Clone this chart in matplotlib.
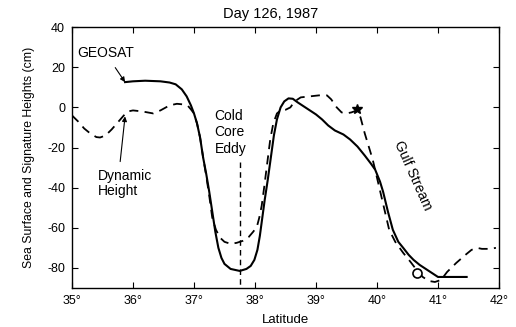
import matplotlib
matplotlib.use("Agg")
import matplotlib.pyplot as plt

plt.rcParams['font.family'] = ['Liberation Sans', 'DejaVu Sans']
plt.rcParams['axes.unicode_minus'] = False

# GEOSAT sea surface height (solid)
geosat_lat = [35.87, 36.0, 36.2, 36.45, 36.6, 36.7, 36.8, 36.88, 36.95, 37.0, 37.05,
              37.1, 37.15, 37.2, 37.25, 37.3, 37.35, 37.4, 37.45, 37.5, 37.6, 37.75,
              37.86, 37.93, 37.99, 38.04, 38.08, 38.12, 38.16, 38.21, 38.26, 38.31, 38.36,
              38.42, 38.48, 38.55, 38.62, 38.7, 38.8, 38.9, 39.0, 39.1, 39.2, 39.31,
              39.45, 39.56, 39.68, 39.8, 39.9, 39.97, 40.05, 40.1, 40.18, 40.26,
              40.35, 40.43, 40.52, 40.6, 40.7, 40.8, 40.9, 41.0, 41.47]
geosat_h = [12.6, 13.0, 13.3, 13.0, 12.4, 11.5, 9.0, 5.5, 1.0, -3.0, -8.0,
            -15.0, -25.0, -33.0, -42.0, -52.0, -62.0, -70.0, -75.0, -78.0, -80.5, -81.5,
            -80.5, -79.0, -76.0, -71.0, -64.0, -55.0, -46.0, -36.0, -25.0, -14.0, -6.0,
            0.0, 3.0, 4.5, 4.3, 2.5, 0.5, -1.5, -3.5, -6.0, -9.0, -11.5,
            -13.5, -16.0, -19.5, -24.0, -28.0, -31.0, -37.0, -42.0, -52.0, -61.0,
            -67.0, -70.0, -73.5, -76.0, -78.5, -80.5, -82.5, -84.5, -84.5]

# Dynamic height (dashed)
dyn_lat = [35.0, 35.1, 35.2, 35.3, 35.4, 35.46, 35.55, 35.65, 35.75, 35.85, 35.92,
           36.0, 36.15, 36.33, 36.45, 36.6, 36.72, 36.82, 36.9, 36.95, 37.0, 37.05,
           37.1, 37.15, 37.2, 37.25, 37.3, 37.36, 37.43, 37.5, 37.6, 37.7, 37.8,
           37.9, 37.97, 38.03, 38.07, 38.11, 38.15, 38.2, 38.25, 38.3, 38.36, 38.42,
           38.5, 38.58, 38.65, 38.75, 38.9, 39.05, 39.18, 39.25, 39.34, 39.42, 39.5,
           39.58, 39.67, 39.73, 39.8, 39.87, 39.93, 40.0, 40.1, 40.2, 40.3, 40.43,
           40.55, 40.65, 40.75, 40.85, 40.95, 41.05, 41.15, 41.3, 41.45, 41.55,
           41.64, 41.72, 41.85, 41.95]
dyn_h = [-4.0, -7.0, -10.5, -13.0, -14.8, -15.0, -14.0, -11.0, -7.5, -4.0, -2.0,
         -1.5, -2.0, -3.0, -1.5, 1.0, 1.8, 1.5, 0.8, -1.0, -3.0, -8.0,
         -15.0, -25.0, -34.0, -44.0, -55.0, -61.0, -65.0, -67.0, -68.0, -67.5, -66.5,
         -64.5, -62.0, -59.6, -55.0, -49.0, -40.0, -28.0, -16.0, -8.0, -3.0, -1.5,
         -1.2, 0.0, 3.0, 5.0, 5.5, 6.0, 6.0, 4.0, 0.0, -2.5, -3.0,
         -2.5, -1.5, -5.0, -13.0, -20.0, -26.0, -35.0, -48.0, -61.0, -67.0, -72.5,
         -77.0, -81.0, -84.5, -86.5, -87.0, -86.0, -82.0, -77.5, -73.5, -71.0,
         -70.0, -70.5, -70.5, -70.0]

star_pt = (39.67, -1.0)
circle_pt = (40.66, -82.5)

xticks = [35, 36, 37, 38, 39, 40, 41, 42]
xlabels = [f"{v}\u00b0" for v in xticks]
yticks = [-80, -60, -40, -20, 0, 20, 40]

fig = plt.figure(figsize=(5.16, 3.27), dpi=100)
ax = fig.add_axes([0.1395, 0.1193, 0.8275, 0.7977])

ax.plot(geosat_lat, geosat_h, color='black', lw=1.5)
ax.plot(dyn_lat, dyn_h, color='black', lw=1.3, dashes=(5, 3.5))
ax.plot([37.75, 37.75], [-27, -90], color='black', lw=1.0, dashes=(4, 3))
ax.plot(*star_pt, marker='*', color='black', ms=7)
ax.plot(*circle_pt, marker='o', mfc='white', mec='black', ms=6.5, mew=1.2)

fs = 10
ax.annotate("GEOSAT", xy=(35.87, 12.6), xytext=(35.55, 27), fontsize=fs,
            ha='center', va='center',
            arrowprops=dict(arrowstyle='-|>', color='black', lw=0.8,
                            shrinkA=4, shrinkB=0, mutation_scale=7))
ax.annotate("", xy=(35.87, -4.5), xytext=(35.79, -27),
            arrowprops=dict(arrowstyle='-|>', color='black', lw=0.8,
                            shrinkA=0, shrinkB=0, mutation_scale=7))
ax.text(35.43, -38, "Dynamic\nHeight", fontsize=fs, ha='left', va='center',
        linespacing=1.15)
ax.text(37.34, -12.5, "Cold\nCore\nEddy", fontsize=fs, ha='left', va='center',
        linespacing=1.2)
ax.text(40.58, -34, "Gulf Stream", fontsize=fs, ha='center', va='center',
        rotation=-66)

ax.set_xlim(35, 42)
ax.set_ylim(-90, 40)
ax.set_xticks(xticks)
ax.set_xticklabels(xlabels)
ax.set_yticks(yticks)
ax.tick_params(direction='in', top=True, right=True, labelsize=9, length=4,
               width=0.8, pad=5)
for s in ax.spines.values():
    s.set_linewidth(1.0)

ax.set_xlabel("Latitude", fontsize=9.5, labelpad=5)
ax.set_ylabel("Sea Surface and Signature Heights (cm)", fontsize=8.8, labelpad=9)
fig.text(0.525, 0.957, "Day 126, 1987", fontsize=10.5, ha='center', va='center')

fig.savefig("out.png", dpi=100)
